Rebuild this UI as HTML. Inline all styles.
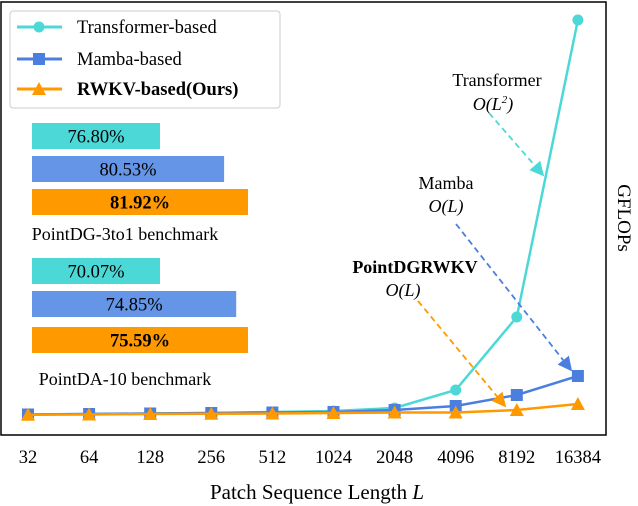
<!DOCTYPE html>
<html><head><meta charset="utf-8"><style>
body{margin:0;background:#fff;font-family:"Liberation Serif",serif}
svg{display:block}
svg text{font-family:"Liberation Serif",serif}
</style></head><body>
<svg id="c" width="638" height="506" font-family="Liberation Serif, serif" xmlns="http://www.w3.org/2000/svg">
<defs>
<marker id="ac" markerWidth="8" markerHeight="8" refX="7" refY="4" orient="auto"><path d="M0,0L8,4L0,8z" fill="#4dd8d8"/></marker>
<marker id="ab" markerWidth="8" markerHeight="8" refX="7" refY="4" orient="auto"><path d="M0,0L8,4L0,8z" fill="#4a7fe0"/></marker>
<marker id="ao" markerWidth="8" markerHeight="8" refX="7" refY="4" orient="auto"><path d="M0,0L8,4L0,8z" fill="#ff9900"/></marker>
</defs>
<rect x="1" y="2" width="605" height="433" fill="none" stroke="#000" stroke-width="1.5"/>
<g id="series"></g>
<g id="xt"></g>
<text x="317" y="499" font-size="21" text-anchor="middle">Patch Sequence Length <tspan font-style="italic">L</tspan></text>
<text transform="translate(618,218) rotate(90)" font-size="19" text-anchor="middle">GFLOPs</text>
<g>
<rect x="10" y="11" width="270" height="97" rx="3" fill="#fff" stroke="#ccc"/>
<g><line x1="17" y1="27" x2="62" y2="27" stroke="#4dd8d8" stroke-width="3"/><circle cx="39" cy="27" r="5.5" fill="#4dd8d8"/><text x="77" y="33" font-size="18.5">Transformer-based</text></g>
<g><line x1="17" y1="59" x2="62" y2="59" stroke="#4a7fe0" stroke-width="3"/><rect x="33" y="53" width="12" height="12" fill="#4a7fe0"/><text x="77" y="65" font-size="18.5">Mamba-based</text></g>
<g><line x1="17" y1="89" x2="62" y2="89" stroke="#ff9900" stroke-width="3"/><path d="M39,82L46,95L32,95z" fill="#ff9900"/><text x="77" y="95" font-size="18.5" font-weight="bold">RWKV-based(Ours)</text></g>
</g>
<g id="bars"></g>
<g font-size="18" text-anchor="middle">
<text x="497" y="86">Transformer</text>
<text x="493" y="110" font-style="italic">O(L<tspan font-size="11" dy="-7">2</tspan><tspan dy="7">)</tspan></text>
<line x1="489" y1="113" x2="543" y2="175" stroke="#4dd8d8" stroke-width="1.8" stroke-dasharray="6,4" marker-end="url(#ac)"/>
<text x="446" y="189">Mamba</text>
<text x="446" y="212" font-style="italic">O(L)</text>
<line x1="456" y1="224" x2="571" y2="370" stroke="#4a7fe0" stroke-width="1.8" stroke-dasharray="6,4" marker-end="url(#ab)"/>
<text x="415" y="273" font-weight="bold">PointDGRWKV</text>
<text x="403" y="296" font-style="italic">O(L)</text>
<line x1="418" y1="301" x2="505" y2="406" stroke="#ff9900" stroke-width="1.8" stroke-dasharray="6,4" marker-end="url(#ao)"/>
</g>
</svg>
<script>
const categories=["32","64","128","256","512","1024","2048","4096","8192","16384"];
const transformer=[0.5,1,1.5,2,3,4,7,25,98,395];
const mamba=[0.5,1,1.5,2,2.5,3,5,9,20,39];
const rwkv=[0.3,0.5,1,1.2,1.5,2,2.5,2.5,5,11];
const dg=[76.80,80.53,81.92];
const da=[70.07,74.85,75.59];
const barLabels=["PointDG-3to1 benchmark","PointDA-10 benchmark"];
const NS="http://www.w3.org/2000/svg";
const xs=i=>28+i*61.1;
const ys=v=>415-v;
function mk(t,a,p){const e=document.createElementNS(NS,t);for(const k in a)e.setAttribute(k,a[k]);(p||document.getElementById('series')).appendChild(e);return e;}
const S=[[transformer,"#4dd8d8","c"],[mamba,"#4a7fe0","s"],[rwkv,"#ff9900","t"]];
S.forEach(([d,col,m])=>{
 const l=mk('polyline',{points:d.map((v,i)=>xs(i)+','+ys(v)).join(' '),fill:'none',stroke:col,'stroke-width':2.5});
 
 
 d.forEach((v,i)=>{const x=xs(i),y=ys(v);let e;
  if(m=='c')e=mk('circle',{cx:x,cy:y,r:5.5,fill:col});
  else if(m=='s')e=mk('rect',{x:x-6,y:y-6,width:12,height:12,fill:col});
  else e=mk('path',{d:`M${x},${y-7}L${x+7},${y+6}L${x-7},${y+6}z`,fill:col});
  
  });
});
const xt=document.getElementById('xt');
categories.forEach((c,i)=>{const t=mk('text',{x:xs(i),y:463,'font-size':18.5,'text-anchor':'middle'},xt);t.textContent=c;
 
 });
const bg=document.getElementById('bars');
const cols=["#4dd8d8","#6495e6","#ff9900"];
[[dg,123],[da,258]].forEach(([vals,y0],g)=>{
 const mn=Math.min(...vals),mx=Math.max(...vals);
 const bx=v=>32+128+(v-mn)/(mx-mn)*88;
 vals.forEach((v,i)=>{const y=y0+i*33+(g&&i==2?3:0);
  const r=mk('rect',{x:32,y:y,width:bx(v)-32,height:26,fill:cols[i]},bg);
  
  
  const t=mk('text',{x:(32+bx(v))/2,y:y+19.5,'font-size':18.5,'text-anchor':'middle','font-weight':i==2?'bold':'normal'},bg);
  t.textContent=v.toFixed(2)+'%';
  
  });
 const t=mk('text',{x:125,y:g?385:240,'font-size':18,'text-anchor':'middle'},bg);t.textContent=barLabels[g];
 
 
});
</script>
</body></html>
